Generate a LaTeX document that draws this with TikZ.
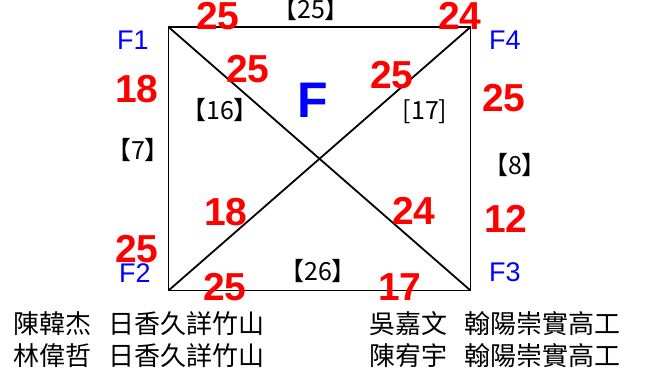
\documentclass[tikz,border=0pt]{standalone}
\usepackage{fontspec}
\setmainfont{Liberation Sans}
\newfontfamily\cjk{Noto Sans CJK TC}
\usetikzlibrary{positioning}
\begin{document}
\begin{tikzpicture}[x=1pt,y=-1pt,line width=1.8pt,
  every node/.style={inner sep=0pt},
  wt/.style={text=red,font=\fontsize{39}{39}\selectfont\bfseries},
  vx/.style={text=blue,font=\fontsize{27}{27}\selectfont},
  br/.style={font=\cjk\fontsize{25}{25}\selectfont},
  nm/.style={anchor=west,font=\cjk\fontsize{26}{30}\selectfont}]
\useasboundingbox (0,0) rectangle (649,370);
% square and diagonals
\coordinate (p1) at (168.5,27); \coordinate (p4) at (470.5,27);
\coordinate (p2) at (168.5,290.5); \coordinate (p3) at (470.5,290.5);
\draw (p1) -- (p4) -- (p3) -- (p2) -- cycle;
\draw (p1) -- (p3) (p2) -- (p4);
% corner names
\node[vx] (f1) at (133,40) {F1};
\node[vx] (f4) at (505,40) {F4};
\node[vx] (f2) at (135,273) {F2};
\node[vx] (f3) at (505,272) {F3};
\node[text=blue,font=\fontsize{50}{50}\selectfont\bfseries] (ff) at (313,100) {F};
% red weights
\node[wt] (w1) at (218,16) {25};
\node[wt] (w2) at (460,16) {24};
\node[wt] (w3) at (137,89) {18};
\node[wt] (w4) at (248,69) {25};
\node[wt] (w5) at (392,75) {25};
\node[wt] (w6) at (504,98) {25};
\node[wt] (w7) at (226,212) {18};
\node[wt] (w8) at (414,211) {24};
\node[wt] (w9) at (506,219) {12};
\node[wt] (w10) at (137,249) {25};
\node[wt] (w11) at (225,287) {25};
\node[wt] (w12) at (400,287) {17};
% bracketed numbers
\node[br] (b1) at (311,9) {【25】};
\node[br] (b2) at (220,110) {【16】};
\node[br] (b3) at (425,112) {[17]};
\node[br] (b4) at (138,150) {【7】};
\node[br] (b5) at (515,165) {【8】};
\node[br] (b6) at (318,271) {【26】};
% names
\node[nm] (n1) at (13,324) {陳韓杰\hspace{17pt}日香久詳竹山};
\node[nm] (n2) at (13,356) {林偉哲\hspace{17pt}日香久詳竹山};
\node[nm] (n3) at (369,324) {吳嘉文\hspace{17pt}翰陽崇實高工};
\node[nm] (n4) at (369,356) {陳宥宇\hspace{17pt}翰陽崇實高工};
\end{tikzpicture}
\end{document}
